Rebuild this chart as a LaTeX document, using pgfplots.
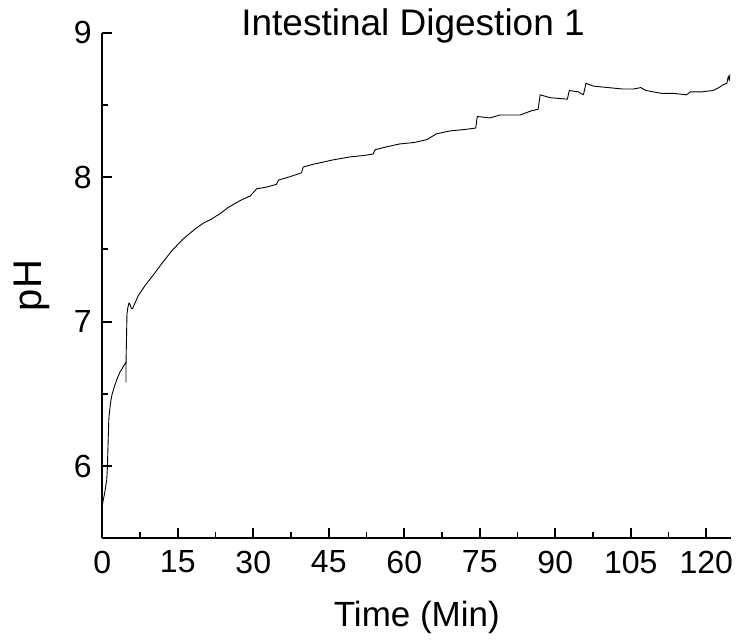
\documentclass[border=0pt]{standalone}
\usepackage{pgfplots}
\pgfplotsset{compat=1.18}
\usepackage{fontspec}
\setmainfont{Liberation Sans}
\pgfplotsset{/pgf/number format/assume math mode=true}
\begin{document}
\begin{tikzpicture}
\begin{axis}[
  name=ax,
  scale only axis,
  width=629.1pt, height=505.6pt,
  xmin=0, xmax=125, ymin=5.5, ymax=9,
  axis x line*=bottom, axis y line*=left,
  axis line style={line width=2.2pt,-},
  xtick={0,15,...,120}, ytick={6,7,8,9},
  minor x tick num=1, minor y tick num=1,
  tick align=inside,
  major tick length=10pt, minor tick length=6pt,
  tick style={black,line width=1.8pt},
  tick label style={font=\fontsize{32}{38}\selectfont},
  xticklabel style={yshift=-9pt},
  yticklabel style={xshift=-7pt},
  title={Intestinal Digestion 1},
  title style={font=\fontsize{37}{42}\selectfont, at={(axis description cs:0.494,1)}, anchor=base, yshift=-9.3pt},
  xlabel={Time (Min)},
  xlabel style={font=\fontsize{35}{40}\selectfont, at={(axis description cs:0.5,-0.175)}, anchor=base},
  ylabel={pH},
  ylabel style={font=\fontsize{40}{46}\selectfont, at={(axis description cs:-0.112,0.5)}, anchor=center, rotate=0},
  clip=false,
]
\addplot[black, line width=0.9pt, line join=round] table {
x y
0.0 5.73
0.5 5.82
0.87 5.90
1.0 5.98
1.1 6.10
1.3 6.33
1.6 6.43
1.9 6.49
2.4 6.55
2.9 6.60
3.5 6.65
4.2 6.69
4.70 6.72
4.71 6.58
4.72 6.72
4.9 7.05
5.04 7.09
5.3 7.13
5.5 7.12
5.8 7.09
6.0 7.09
7.15 7.18
8.5 7.25
10.5 7.34
12.0 7.41
13.8 7.49
16.0 7.57
18.4 7.64
20.0 7.68
21.7 7.71
23.5 7.75
25.0 7.79
27.5 7.84
29.4 7.87
30.7 7.92
32.5 7.93
34.6 7.95
35.0 7.98
37.0 8.00
39.6 8.03
39.9 8.07
42.0 8.09
45.9 8.12
49.2 8.14
52.0 8.15
53.8 8.16
54.2 8.19
56.5 8.21
59.1 8.23
62.0 8.24
64.5 8.26
66.4 8.30
69.1 8.32
72.0 8.33
74.2 8.34
74.5 8.42
77.0 8.41
79.0 8.43
83.0 8.43
85.3 8.46
86.6 8.47
87.0 8.57
89.0 8.55
92.4 8.54
92.8 8.60
94.6 8.59
95.6 8.57
96.1 8.65
97.6 8.63
100.5 8.62
103.5 8.61
105.5 8.61
107.0 8.62
108.0 8.60
111.1 8.58
113.5 8.58
116.1 8.57
116.8 8.59
119.0 8.59
121.4 8.60
122.5 8.62
123.4 8.64
124.1 8.65
124.4 8.70
124.6 8.67
124.7 8.71
};
\end{axis}
\path (ax.south west) ++(-102.3pt,-104.7pt) coordinate (bbA);
\path (ax.north east) ++(6.6pt,32.7pt) coordinate (bbB);
\pgfresetboundingbox
\path[use as bounding box] (bbA) rectangle (bbB);
\end{tikzpicture}
\end{document}
